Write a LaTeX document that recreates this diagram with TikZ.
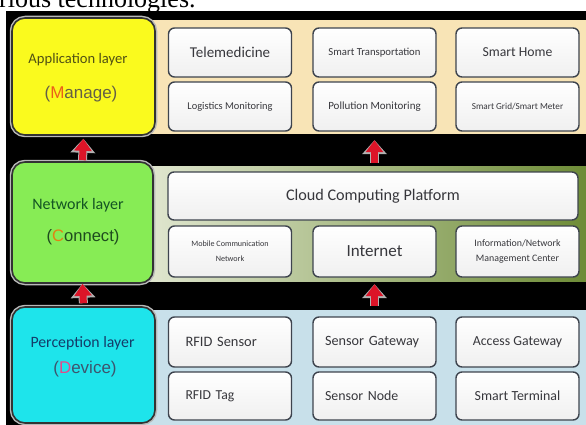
\documentclass[tikz,border=0pt]{standalone}
\usepackage{fontspec}
\setmainfont{Carlito}
\newfontfamily\tagfont{Liberation Sans}
\newfontfamily\runfont{Liberation Serif}
\usepackage{xcolor}
\usepackage{tikz}
\usetikzlibrary{arrows.meta, positioning, calc}
\definecolor{appfill}{RGB}{250, 250, 30}
\definecolor{netfill}{RGB}{135, 236, 85}
\definecolor{perfill}{RGB}{30, 228, 235}
\definecolor{appband}{RGB}{248, 228, 182}
\definecolor{netbandL}{RGB}{226, 232, 210}
\definecolor{netbandM}{RGB}{190, 205, 150}
\definecolor{netbandR}{RGB}{110, 140, 55}
\definecolor{perband}{RGB}{200, 224, 234}
\definecolor{itemtext}{RGB}{55, 55, 60}
\definecolor{itemline}{RGB}{62, 68, 78}
\definecolor{flowred}{RGB}{220, 20, 40}
\definecolor{appt}{RGB}{80, 80, 20}
\definecolor{appsub}{RGB}{100, 95, 70}
\definecolor{appkey}{RGB}{235, 95, 25}
\definecolor{nett}{RGB}{20, 85, 35}
\definecolor{netsub}{RGB}{30, 75, 30}
\definecolor{netkey}{RGB}{225, 130, 20}
\definecolor{pert}{RGB}{20, 60, 105}
\definecolor{persub}{RGB}{60, 85, 110}
\definecolor{perkey}{RGB}{225, 75, 140}
\newcommand{\fsz}[2]{\fontsize{#1}{#2}\selectfont}
\tikzstyle{band} = [rectangle, minimum width=446pt, inner sep=0pt]
\tikzstyle{layer} = [rectangle, rounded corners=13pt, minimum width=143pt, draw=black!80, line width=1.6pt, preaction={draw=gray!55, line width=4.5pt}]
\tikzstyle{item} = [rectangle, rounded corners=6pt, minimum width=123pt, minimum height=49pt, draw=itemline, line width=1.4pt, top color=white, bottom color=gray!12, text=itemtext, inner sep=0pt]
\tikzstyle{itemL} = [item, align=left, text width=89pt, inner xsep=17pt]
\tikzstyle{itemM} = [item, align=left, text width=99pt, inner xsep=12pt]
\tikzstyle{uparrow} = [draw=flowred, line width=7pt, -{Triangle[width=17pt,length=12pt]}, preaction={draw=gray!60, line width=9pt, -{Triangle[width=24pt,length=14pt]}}]

\begin{document}
\begin{tikzpicture}[x=1pt, y=-1pt]
    \useasboundingbox (0,0) rectangle (586,425);
    \clip (0,0) rectangle (586,425);
    \fill[white] (0,0) rectangle (586,425);

    % Running text above the panel
    \node[anchor=base west, inner sep=0pt, font=\runfont\fsz{26}{30}] (runhead) at (-1,7.5) {rious technologies.};

    % Black backdrop
    \fill[black] (6,11) rectangle (586,425);

    % Bands behind each layer
    \node[band, fill=appband, minimum height=114pt] (appband) at (363,77) {};
    \node[band, left color=netbandL, middle color=netbandM, right color=netbandR, minimum height=115pt] (netband) at (363,223.5) {};
    \node[band, fill=perband, minimum height=115pt] (perband) at (363,367.5) {};

    % Layer boxes
    \node[layer, fill=appfill, minimum height=117pt] (app) at (83.5,76.5) {};
    \node[layer, fill=netfill, minimum width=141pt, minimum height=121pt] (net) at (82.5,222.5) {};
    \node[layer, fill=perfill, minimum height=116pt] (per) at (83.5,365) {};

    \node[font=\fsz{14.6}{17}, text=appt] (apptitle) at (78,60) {Application layer};
    \node[font=\tagfont\fsz{17}{20}, text=appsub] (appname) at (81,94) {(\textcolor{appkey}{M}anage)};
    \node[font=\fsz{16}{19}, text=nett] (nettitle) at (78,205) {Network layer};
    \node[font=\tagfont\fsz{16.6}{20}, text=netsub] (netname) at (83,237) {(\textcolor{netkey}{C}onnect)};
    \node[font=\fsz{15.8}{19}, text=pert] (pertitle) at (82.5,343) {Perception layer};
    \node[font=\tagfont\fsz{17}{20}, text=persub] (pername) at (85,369) {(\textcolor{perkey}{D}evice)};

    % Application layer services
    \node[item, font=\fsz{15}{18}] (tele) at (230,52.5) {Telemedicine};
    \node[item, font=\fsz{10.4}{12}] (logi) at (230,106.5) {Logistics Monitoring};
    \node[item, font=\fsz{10.7}{12}] (trans) at (374.5,52.5) {Smart Transportation};
    \node[item, font=\fsz{11}{13}] (poll) at (374.5,106.5) {Pollution Monitoring};
    \node[item, font=\fsz{13.7}{16}] (home) at (517.5,52.5) {Smart Home};
    \node[item, font=\fsz{9.2}{11}] (grid) at (517.5,106.5) {Smart Grid/Smart Meter};

    % Network layer
    \node[item, minimum width=410pt, minimum height=48pt, font=\fsz{16.2}{19}] (cloud) at (373,196) {Cloud Computing Platform};
    \node[item, minimum height=51pt, align=center, font=\fsz{8.1}{15}] (mobile) at (230,251.5) {Mobile Communication\\Network};
    \node[item, minimum height=51pt, font=\fsz{17}{20}] (inet) at (374.5,251.5) {Internet};
    \node[item, minimum height=51pt, align=center, font=\fsz{9.9}{15}] (nmc) at (517.5,251.5) {Information/Network\\Management Center};

    % Perception layer
    \node[itemL, minimum height=50pt, font=\fsz{14.4}{17}] (rfids) at (230,342) {RFID Sensor};
    \node[itemL, minimum height=48pt, font=\fsz{13.7}{16}] (rfidt) at (230,396) {RFID Tag};
    \node[itemM, minimum height=50pt, font=\fsz{14.2}{17}] (sgw) at (374.5,342) {Sensor Gateway};
    \node[itemM, minimum height=48pt, font=\fsz{13.9}{16}] (snode) at (374.5,396) {Sensor Node};
    \node[item, minimum height=50pt, font=\fsz{13.8}{16}] (agw) at (517.5,342) {Access Gateway};
    \node[item, minimum height=48pt, font=\fsz{13.9}{16}] (sterm) at (517.5,396) {Smart Terminal};

    % Upward flow between layers
    \draw[uparrow, shorten <=1pt, shorten >=3pt] (net.north) -- (app.south);
    \draw[uparrow, shorten <=3pt, shorten >=6pt] (netband.north -| inet) -- (appband.south -| inet);
    \draw[uparrow, shorten <=3pt] (per.north) -- (net.south);
    \draw[uparrow, shorten <=4pt, shorten >=3pt] (perband.north -| inet) -- (netband.south -| inet);
\end{tikzpicture}
\end{document}
